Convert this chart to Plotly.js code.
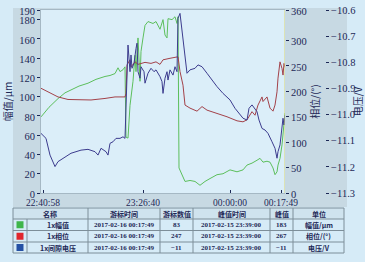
<!DOCTYPE html>
<html>
<head>
<meta charset="utf-8">
<script src="https://cdn.plot.ly/plotly-3.0.1.min.js"></script>
<style>
html,body{margin:0;padding:0;background:#d6ebf7;}
#chart{width:365px;height:262px;}
</style>
</head>
<body>
<div id="chart"></div>
<script>
// ---- data (x = sample index along the record) ----
const ampSample = [0, 8, 17, 24, 30, 38, 47, 55, 64, 69, 74, 77, 79, 82, 84, 85, 87, 89, 92, 94, 95, 97, 99, 100, 102, 104, 107, 112, 115, 119, 122, 124, 126, 127, 131, 134, 136, 137, 138, 141, 144, 149, 154, 159, 164, 169, 176, 182, 189, 196, 202, 206, 211, 216, 219, 222, 226, 229, 232, 234, 236, 237, 239, 241, 242, 244];
const ampValue  = [79, 89, 98, 104, 107, 111, 114, 118, 121, 122, 124, 130, 126, 128, 131, 58, 57, 91, 116, 143, 126, 161, 116, 147, 161, 174, 178, 176, 178, 170, 180, 164, 161, 181, 180, 183, 176, 183, 26, 19, 12, 13, 12, 8, 12, 15, 19, 20, 24, 22, 24, 29, 31, 34, 36, 32, 33, 32, 26, 19, 22, 29, 36, 50, 64, 83];

const phaseSample = [0, 10, 17, 27, 40, 50, 64, 74, 84, 85, 86, 89, 90, 94, 97, 104, 110, 115, 119, 122, 129, 137, 139, 142, 144, 149, 156, 161, 166, 176, 186, 196, 202, 206, 211, 214, 217, 221, 222, 226, 229, 232, 234, 236, 237, 239, 241, 242, 243, 244];
const phaseValue  = [206, 196, 189, 184, 184, 183, 186, 189, 189, 196, 252, 262, 248, 258, 253, 257, 255, 258, 253, 262, 265, 268, 239, 212, 173, 167, 161, 170, 163, 157, 150, 142, 140, 144, 160, 153, 173, 189, 180, 189, 167, 161, 173, 199, 226, 258, 245, 232, 255, 247];

const voltSample = [0, 5, 9, 12, 14, 17, 22, 30, 40, 47, 54, 57, 60, 65, 67, 69, 72, 75, 79, 82, 84, 85, 87, 89, 90, 91, 93, 95, 96, 97, 99, 100, 103, 104, 107, 110, 113, 115, 119, 121, 122, 124, 126, 127, 129, 132, 134, 136, 137, 139, 142, 144, 146, 149, 154, 157, 161, 166, 171, 176, 182, 189, 194, 199, 202, 206, 208, 211, 216, 218, 221, 224, 227, 231, 234, 236, 237, 239, 241, 242, 243, 244];
const voltValue  = [-11.072, -11.091, -11.155, -11.186, -11.199, -11.180, -11.167, -11.148, -11.136, -11.133, -11.142, -11.155, -11.129, -11.142, -11.155, -11.110, -11.104, -11.091, -11.091, -11.085, -11.091, -10.938, -10.734, -10.836, -10.772, -10.823, -10.804, -10.747, -10.727, -10.836, -10.861, -10.817, -10.836, -10.880, -10.842, -10.823, -10.836, -10.829, -10.855, -10.874, -10.919, -10.861, -10.836, -10.868, -10.829, -10.849, -10.817, -10.836, -10.632, -10.613, -10.708, -10.759, -10.842, -10.829, -10.823, -10.810, -10.817, -10.842, -10.868, -10.893, -10.919, -10.944, -10.976, -11.002, -11.014, -11.021, -10.976, -10.963, -10.989, -11.021, -11.053, -11.059, -11.072, -11.104, -11.129, -11.167, -11.142, -11.116, -11.053, -11.014, -11.040, -11.002];

const timeTickSamples = [2, 102, 189, 240];
const timeTickLabels  = ['22:40:58', '23:26:40', '00:00:00', '00:17:49'];
const ampTicks   = [0, 20, 40, 60, 80, 100, 120, 140, 160, 180, 190];
const phaseTicks = [0, 50, 100, 150, 200, 250, 300, 360];
const voltTicks  = [-11.3, -11.2, -11.1, -11.0, -10.9, -10.8, -10.7, -10.6];

// table contents
const tableHeader   = ['名称', '游标时间', '游标数值', '峰值时间', '峰值', '单位'];
const seriesColors  = ['#3fb54b', '#e0262d', '#2450a4'];
const seriesNames   = ['1x幅值', '1x相位', '1x间隙电压'];
const cursorTimes   = ['2017-02-16 00:17:49', '2017-02-16 00:17:49', '2017-02-16 00:17:49'];
const cursorValues  = ['83', '247', '−11'];
const peakTimes     = ['2017-02-15 23:39:00', '2017-02-15 23:39:00', '2017-02-15 23:39:00'];
const peakValues    = ['183', '267', '−11'];
const units         = ['幅值/μm', '相位/(°)', '电压/V'];

const W = 365, H = 262;
const serif = '"Liberation Serif", "Times New Roman", serif';
const cjk = '"Noto Sans CJK SC", sans-serif';
const txt = '#1d2856';
const gridCol = '#7d8e99';

// table geometry (px)
const colEdges = [13, 27, 88, 160, 193, 270, 293, 344];
const rowEdges = [208, 219, 230.5, 242, 253];
const px = x => x / W, py = y => 1 - y / H;

const shapes = [
  {type: 'rect', xref: 'paper', yref: 'paper', x0: px(13), x1: px(347), y0: py(207), y1: py(8),
   fillcolor: '#c7d9e3', line: {width: 0}, layer: 'below'},
  {type: 'rect', xref: 'x domain', yref: 'y domain', x0: 0, x1: 1, y0: 0, y1: 1,
   fillcolor: '#dbeef9', line: {width: 0}, layer: 'below'},
  {type: 'line', xref: 'x', yref: 'y domain', x0: 244, x1: 244, y0: 0, y1: 1,
   line: {color: '#dcd872', width: 1}, layer: 'above'},
  {type: 'rect', xref: 'paper', yref: 'paper', x0: px(13), x1: px(344), y0: py(219), y1: py(208),
   fillcolor: '#cfe3ee', line: {width: 0}, layer: 'below'}
];
rowEdges.forEach(y => shapes.push({type: 'line', xref: 'paper', yref: 'paper',
  x0: px(colEdges[0]), x1: px(colEdges[colEdges.length - 1]), y0: py(y), y1: py(y),
  line: {color: gridCol, width: 1}}));
colEdges.forEach((x, i) => shapes.push({type: 'line', xref: 'paper', yref: 'paper',
  x0: px(x), x1: px(x), y0: py(rowEdges[rowEdges.length - 1]), y1: py(i === 1 ? rowEdges[1] : rowEdges[0]),
  line: {color: gridCol, width: 1}}));

const annotations = [];
const cellAnn = (text, cx, cy, family) => annotations.push({
  xref: 'paper', yref: 'paper', x: px(cx), y: py(cy), xanchor: 'center', yanchor: 'middle',
  text: '<b>' + text + '</b>', showarrow: false, borderpad: 0,
  font: {family: family, size: 7, color: txt}
});
const colCenter = i => (colEdges[i] + colEdges[i + 1]) / 2;
const rowCenter = r => (rowEdges[r] + rowEdges[r + 1]) / 2;
// header: first label spans the swatch and name columns
cellAnn(tableHeader[0], (colEdges[0] + colEdges[2]) / 2, rowCenter(0), cjk);
tableHeader.slice(1).forEach((h, i) => cellAnn(h, colCenter(i + 2), rowCenter(0), cjk));
const rowsCols = [seriesNames, cursorTimes, cursorValues, peakTimes, peakValues, units];
const rowsFam = [cjk, serif, serif, serif, serif, cjk];
seriesColors.forEach((c, r) => {
  const cy = rowCenter(r + 1), cx = colCenter(0);
  shapes.push({type: 'rect', xref: 'paper', yref: 'paper', x0: px(cx - 3.5), x1: px(cx + 3.5),
    y0: py(cy + 3.5), y1: py(cy - 3.5), fillcolor: c, line: {width: 0}});
  rowsCols.forEach((col, j) => cellAnn(col[r], colCenter(j + 1), cy, rowsFam[j]));
});

const traces = [
  {x: ampSample, y: ampValue, type: 'scatter', mode: 'lines', line: {color: '#5cbf5c', width: 1}, xaxis: 'x', yaxis: 'y', hoverinfo: 'skip'},
  {x: phaseSample, y: phaseValue, type: 'scatter', mode: 'lines', line: {color: '#a3424a', width: 1}, xaxis: 'x', yaxis: 'y2', hoverinfo: 'skip'},
  {x: voltSample, y: voltValue, type: 'scatter', mode: 'lines', line: {color: '#3c3c8e', width: 1}, xaxis: 'x', yaxis: 'y3', hoverinfo: 'skip'}
];

const tickFont = {family: serif, size: 10.5, color: txt};
const titleFont = {family: cjk, size: 10, color: txt};

const layout = {
  width: W, height: H,
  margin: {l: 0, r: 0, t: 0, b: 0},
  paper_bgcolor: '#d6ebf7',
  plot_bgcolor: '#dbeef9',
  showlegend: false,
  xaxis: {
    domain: [41 / W, 285 / W],
    range: [0, 244],
    tickvals: timeTickSamples, ticktext: timeTickLabels,
    ticks: 'inside', ticklen: 3, tickcolor: txt,
    ticklabelstandoff: 1,
    tickfont: {family: serif, size: 9.5, color: txt},
    showgrid: false, zeroline: false,
    showline: true, mirror: true, linecolor: '#a5b8c4', linewidth: 1,
    fixedrange: true
  },
  yaxis: {
    domain: [69 / H, 252 / H],
    range: [0, 190],
    tickvals: ampTicks,
    ticks: 'outside', ticklen: 3, tickcolor: txt,
    tickfont: tickFont,
    ticklabelshift: 1,
    showgrid: false, zeroline: false,
    showline: true, linecolor: '#a5b8c4',
    title: {text: '幅值/μm', font: titleFont, standoff: 6},
    fixedrange: true
  },
  yaxis2: {
    overlaying: 'y', side: 'right', anchor: 'x',
    range: [0, 360],
    tickvals: phaseTicks,
    ticks: 'outside', ticklen: 3, tickcolor: txt,
    tickfont: tickFont,
    ticklabelshift: 1,
    showgrid: false, zeroline: false, showline: false,
    title: {text: '相位/(°)', font: titleFont, standoff: 3},
    fixedrange: true
  },
  yaxis3: {
    overlaying: 'y', side: 'right', anchor: 'free', position: 325 / W,
    range: [-11.3, -10.6],
    tickvals: voltTicks, tickformat: '.1f',
    ticks: 'outside', ticklen: 3, tickcolor: txt,
    tickfont: tickFont,
    showgrid: false, zeroline: false, showline: false,
    title: {text: '电压/V', font: titleFont, standoff: 3},
    fixedrange: true
  },
  shapes: shapes,
  annotations: annotations
};

Plotly.newPlot('chart', traces, layout, {staticPlot: true, displayModeBar: false});
</script>
</body>
</html>
